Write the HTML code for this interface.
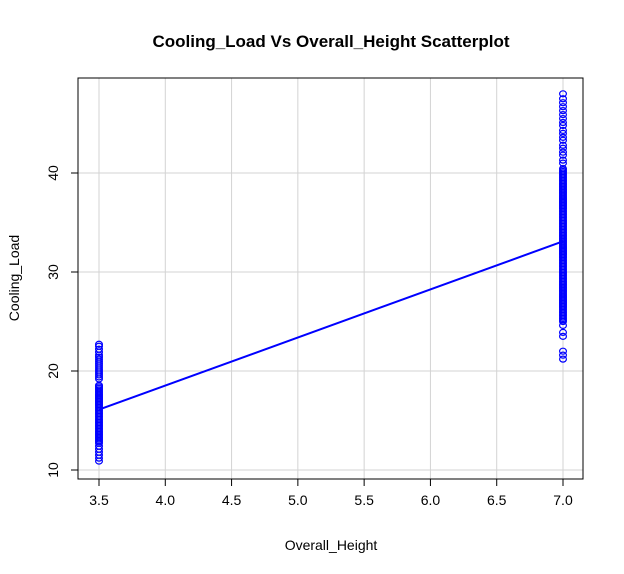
<!DOCTYPE html>
<html><head><meta charset="utf-8"><style>
body{margin:0;background:#fff;}
svg{display:block;font-family:"Liberation Sans",Arial,sans-serif;}
</style></head><body>
<svg id="chart" width="624" height="574">
<text x="331" y="47" text-anchor="middle" font-size="17" font-weight="bold">Cooling_Load Vs Overall_Height Scatterplot</text>
<text x="331" y="550" text-anchor="middle" font-size="14">Overall_Height</text>
<text transform="translate(19,278) rotate(-90)" text-anchor="middle" font-size="14">Cooling_Load</text>
<g id="grid"></g>
<g id="pts"></g>
<g id="fit"></g>
<rect x="78" y="78" width="505" height="401" fill="none" stroke="#000"/>
<g id="axes"></g>
</svg>
<script>
const xTicks=[3.5,4.0,4.5,5.0,5.5,6.0,6.5,7.0];
const xTickLabels=["3.5","4.0","4.5","5.0","5.5","6.0","6.5","7.0"];
const yTicks=[10,20,30,40];
const yTickLabels=["10","20","30","40"];
const groupX=[3.5,7.0];
const lowValues=[10.9,11.2,11.5,11.8,12.1,12.4,12.7,12.85,13.0,13.15,13.3,13.45,13.6,13.75,13.9,14.05,14.2,14.35,14.5,14.65,14.8,14.95,15.1,15.25,15.4,15.55,15.7,15.85,16.0,16.15,16.3,16.45,16.6,16.75,16.9,17.05,17.2,17.35,17.5,17.65,17.8,17.95,18.1,18.25,18.4,18.55,19.2,19.4,19.6,19.8,20.0,20.2,20.4,20.6,20.8,21.0,21.2,21.4,21.6,21.9,22.2,22.5,22.7];
const highValues=[21.2,21.6,22.0,23.5,23.9,24.6,25.0,25.15,25.3,25.45,25.6,25.75,25.9,26.05,26.2,26.35,26.5,26.65,26.8,26.95,27.1,27.25,27.4,27.55,27.7,27.85,28.0,28.15,28.3,28.45,28.6,28.75,28.9,29.05,29.2,29.35,29.5,29.65,29.8,29.95,30.1,30.25,30.4,30.55,30.7,30.85,31.0,31.15,31.3,31.45,31.6,31.75,31.9,32.05,32.2,32.35,32.5,32.65,32.8,32.95,33.1,33.25,33.4,33.55,33.7,33.85,34.0,34.15,34.3,34.45,34.6,34.75,34.9,35.05,35.2,35.35,35.5,35.65,35.8,35.95,36.1,36.25,36.4,36.55,36.7,36.85,37.0,37.15,37.3,37.45,37.6,37.75,37.9,38.05,38.2,38.35,38.5,38.65,38.8,38.95,39.1,39.25,39.4,39.55,39.7,39.85,40.0,40.15,40.3,40.45,41.0,41.3,41.8,42.1,42.5,42.8,43.3,43.6,44.0,44.3,44.8,45.1,45.5,45.9,46.3,46.7,47.1,47.5,48.0];
const fitX=[3.5,7.0];
const fitY=[16.1,33.1];
const NS="http://www.w3.org/2000/svg";
const sx=v=>99+(v-3.5)*(563-99)/3.5;
const sy=v=>470-(v-10)*(470-173)/30;
function mk(tag,attrs,parent){const e=document.createElementNS(NS,tag);for(const k in attrs)e.setAttribute(k,attrs[k]);parent.appendChild(e);return e;}
const grid=document.getElementById('grid'),axes=document.getElementById('axes'),pts=document.getElementById('pts'),fit=document.getElementById('fit');
xTicks.forEach((t,i)=>{
 const g=mk('line',{x1:sx(t),x2:sx(t),y1:78,y2:479,stroke:'#d3d3d3'},grid);
 
 
 const tk=mk('line',{x1:sx(t),x2:sx(t),y1:479,y2:486,stroke:'#000'},axes);
 
 
 const tx=mk('text',{x:sx(t),y:505,'text-anchor':'middle','font-size':14},axes);
 tx.textContent=xTickLabels[i];
 
 
});
yTicks.forEach((t,i)=>{
 const g=mk('line',{x1:78,x2:583,y1:sy(t),y2:sy(t),stroke:'#d3d3d3'},grid);
 
 
 const tk=mk('line',{x1:71,x2:78,y1:sy(t),y2:sy(t),stroke:'#000'},axes);
 
 
 const tx=mk('text',{transform:`translate(58,${sy(t)}) rotate(-90)`,'text-anchor':'middle','font-size':14},axes);
 tx.textContent=yTickLabels[i];
 
 
});
[lowValues,highValues].forEach((arr,gi)=>{
 arr.forEach(v=>{
  const c=mk('ellipse',{cx:sx(groupX[gi]),cy:sy(v),rx:3.4,ry:3,fill:'none',stroke:'#0000ff','stroke-width':1.2},pts);
  
  
 });
});
const l=mk('line',{x1:sx(fitX[0]),y1:sy(fitY[0]),x2:sx(fitX[1]),y2:sy(fitY[1]),stroke:'#0000ff','stroke-width':2},fit);


</script>
</body></html>
